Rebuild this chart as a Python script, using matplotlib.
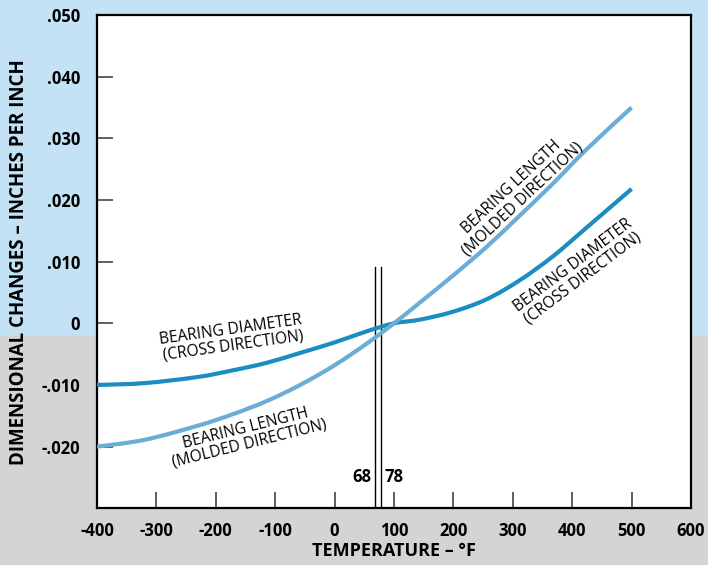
import numpy as np
import matplotlib
matplotlib.use("Agg")
import matplotlib.pyplot as plt
from matplotlib.patches import Rectangle, PathPatch
from matplotlib.path import Path

# readings (temperature in deg F, change in in/in)
temp = [-400, -320, -230, -170, -114, -58, 0, 54, 100, 144, 200, 256, 312, 368, 424, 500]
diameter = [-0.0100, -0.0097, -0.0087, -0.0076, -0.0064, -0.0048, -0.0031, -0.0013,
            0.0000, 0.0006, 0.0019, 0.0039, 0.0070, 0.0109, 0.0155, 0.0218]
length = [-0.0200, -0.0189, -0.0166, -0.0147, -0.0126, -0.0100, -0.0068, -0.0033,
          0.0000, 0.0034, 0.0078, 0.0124, 0.0175, 0.0227, 0.0282, 0.0350]
ref_temps = [68, 78]
xticks = [-400, -300, -200, -100, 0, 100, 200, 300, 400, 500, 600]
yticks = [-0.030, -0.020, -0.010, 0.0, 0.010, 0.020, 0.030, 0.040, 0.050]
ytick_labels = ["", "-.020", "-.010", "0", ".010", ".020", ".030", ".040", ".050"]

DIAM, LEN = "#1b8dc0", "#6badd6"
BLUE_BG, GREY_BG = "#c4e2f5", "#d3d4d6"
plt.rcParams.update({"font.family": ["Open Sans", "DejaVu Sans"], "font.size": 11,
                     "axes.unicode_minus": False})


def smooth_path(x, y):
    """Catmull-Rom curve through the read points, drawn as cubic Beziers."""
    p = np.column_stack([x, y]).astype(float)
    verts, codes = [p[0]], [Path.MOVETO]
    for i in range(len(p) - 1):
        p0 = p[max(i - 1, 0)]; p1 = p[i]; p2 = p[i + 1]; p3 = p[min(i + 2, len(p) - 1)]
        verts += [p1 + (p2 - p0) / 6, p2 - (p3 - p1) / 6, p2]
        codes += [Path.CURVE4] * 3
    return Path(verts, codes)


fig = plt.figure(figsize=(7.08, 5.65), dpi=100)
fig.patches.append(Rectangle((0, 0.406), 1, 0.594, transform=fig.transFigure,
                             color=BLUE_BG, zorder=-10))
fig.patches.append(Rectangle((0, 0), 1, 0.406, transform=fig.transFigure,
                             color=GREY_BG, zorder=-10))
fig.patch.set_alpha(0)
ax = fig.add_axes([0.137, 0.1004, 0.839, 0.873])
ax.set_facecolor("white")

for ys, col in [(diameter, DIAM), (length, LEN)]:
    ax.add_patch(PathPatch(smooth_path(temp, ys), facecolor="none", edgecolor=col,
                           lw=3, capstyle="butt", zorder=3))
for t in ref_temps:
    ax.plot([t, t], [-0.030, 0.0092], color="black", lw=1, zorder=2)
ax.text(ref_temps[0] - 6, -0.0249, str(ref_temps[0]), ha="right", va="center",
        fontweight="bold", fontsize=12)
ax.text(ref_temps[1] + 6, -0.0249, str(ref_temps[1]), ha="left", va="center",
        fontweight="bold", fontsize=12)

lab = dict(ha="center", va="center", fontsize=11.2, rotation_mode="anchor",
           linespacing=1.0)
ax.text(-173, -0.0024, "BEARING DIAMETER\n(CROSS DIRECTION)", rotation=8, **lab)
ax.text(-146, -0.0183, "BEARING LENGTH\n(MOLDED DIRECTION)", rotation=14, **lab)
ax.text(307, 0.0211, "BEARING LENGTH\n(MOLDED DIRECTION)", rotation=43, **lab)
ax.text(410, 0.0083, "BEARING DIAMETER\n(CROSS DIRECTION)", rotation=37, **lab)

ax.set_xlim(-400, 600)
ax.set_ylim(-0.030, 0.050)
ax.set_xticks(xticks)
ax.set_yticks(yticks)
ax.set_yticklabels(ytick_labels)
ax.tick_params(direction="in", length=11.5, width=1.2, color="#444444",
               labelsize=12)
ax.tick_params(axis="y", pad=12)
ax.tick_params(axis="x", pad=10)
for lbl in ax.get_xticklabels() + ax.get_yticklabels():
    lbl.set_fontweight("bold")
for s in ax.spines.values():
    s.set_linewidth(1.6)
ax.set_xlabel("TEMPERATURE – °F", fontsize=13, fontweight="bold", labelpad=1)
ax.set_ylabel("DIMENSIONAL CHANGES – INCHES PER INCH", fontsize=13.5,
              fontweight="bold", labelpad=9)

fig.savefig("out.png", dpi=100)
